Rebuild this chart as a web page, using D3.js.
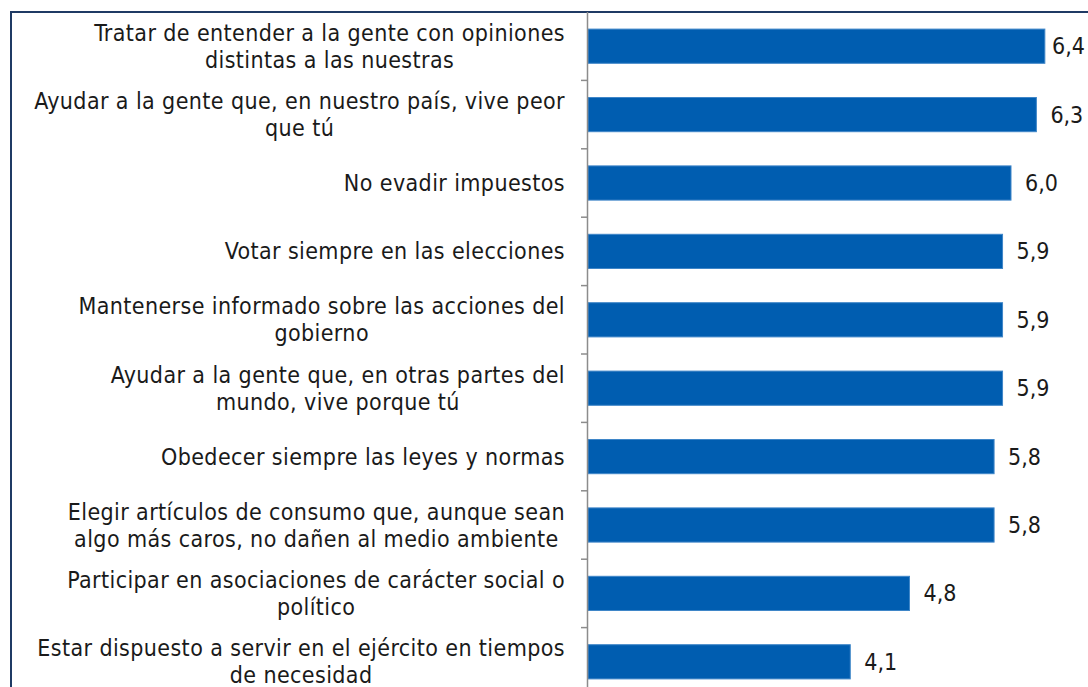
<!DOCTYPE html>
<html>
<head>
<meta charset="utf-8">
<script src="https://cdn.jsdelivr.net/npm/d3@7"></script>
<style>
  html, body { margin: 0; padding: 0; background: #fff; }
  svg { display: block; }
  text { font-family: 'DejaVu Sans Condensed', 'DejaVu Sans', sans-serif; font-stretch: condensed; }
</style>
</head>
<body>
<div id="chart"></div>
<script>
var categories = [
  ['Tratar de entender a la gente con opiniones', 'distintas a las nuestras'],
  ['Ayudar a la gente que, en nuestro país, vive peor', 'que tú'],
  ['No evadir impuestos'],
  ['Votar siempre en las elecciones'],
  ['Mantenerse informado sobre las acciones del', 'gobierno'],
  ['Ayudar a la gente que, en otras partes del', 'mundo, vive porque tú'],
  ['Obedecer siempre las leyes y normas'],
  ['Elegir artículos de consumo que, aunque sean', 'algo más caros, no dañen al medio ambiente'],
  ['Participar en asociaciones de carácter social o', 'político'],
  ['Estar dispuesto a servir en el ejército en tiempos', 'de necesidad']
];
var values = [6.4, 6.3, 6.0, 5.9, 5.9, 5.9, 5.8, 5.8, 4.8, 4.1];
var valueLabels = ['6,4', '6,3', '6,0', '5,9', '5,9', '5,9', '5,8', '5,8', '4,8', '4,1'];

var W = 1088, H = 687;
var m = { left: 588, top: 12 };
var bandStep = 68.4;

var svg = d3.select('#chart').append('svg')
  .attr('width', W)
  .attr('height', H);

// frame
svg.append('path')
  .attr('d', 'M11,' + H + ' V12 H' + W)
  .attr('fill', 'none')
  .attr('stroke', '#1f3a64')
  .attr('stroke-width', 2);

var idx = d3.range(values.length);

var xScale = d3.scaleLinear()
  .domain([1, 7])
  .range([m.left, m.left + 6 * 84.6]);

var yScale = d3.scaleBand()
  .domain(idx)
  .range([m.top, m.top + bandStep * values.length])
  .paddingInner(0.5)
  .paddingOuter(0.25);

var g = svg.append('g');

g.selectAll('rect.bar')
  .data(idx)
  .enter().append('rect')
  .attr('class', 'bar')
  .attr('x', xScale(1))
  .attr('y', function(i) { return yScale(i); })
  .attr('width', function(i) { return xScale(values[i]) - xScale(1); })
  .attr('height', yScale.bandwidth())
  .attr('fill', '#005db0')
  .attr('stroke', '#3f86c8')
  .attr('stroke-width', 1);

// y axis line and ticks at category boundaries
var yAxis = g.append('g').attr('class', 'yaxis');
yAxis.append('line')
  .attr('x1', m.left - 0.5).attr('x2', m.left - 0.5)
  .attr('y1', m.top).attr('y2', H)
  .attr('stroke', '#8c8c8c')
  .attr('stroke-width', 1.5);

yAxis.selectAll('line.tick')
  .data(d3.range(1, values.length))
  .enter().append('line')
  .attr('class', 'tick')
  .attr('x1', m.left - 7).attr('x2', m.left)
  .attr('y1', function(i) { return yScale(i) - yScale.step() * yScale.paddingInner() / 2; })
  .attr('y2', function(i) { return yScale(i) - yScale.step() * yScale.paddingInner() / 2; })
  .attr('stroke', '#8c8c8c')
  .attr('stroke-width', 1.5);

// category labels, block right-aligned, lines centred inside it
var labels = g.selectAll('text.ylabel')
  .data(idx)
  .enter().append('text')
  .attr('class', 'ylabel')
  .attr('font-size', 23)
  .attr('letter-spacing', 0.4)
  .attr('fill', '#1a1a1a')
  .attr('text-anchor', 'middle')
  .attr('transform', function(i) {
    return 'translate(0,' + (yScale(i) + yScale.bandwidth() / 2) + ')';
  });

labels.each(function(i) {
  var lines = categories[i];
  var t = d3.select(this);
  var lh = 27;
  lines.forEach(function(s, k) {
    t.append('tspan')
      .attr('x', 0)
      .attr('y', (k - (lines.length - 1) / 2) * lh)
      .attr('dy', '0.35em')
      .text(s);
  });
  var widths = [];
  t.selectAll('tspan').each(function() { widths.push(this.getComputedTextLength()); });
  t.selectAll('tspan').attr('x', 565 - d3.max(widths) / 2);
});

// value labels, pulled back inside the frame when they would overflow
g.selectAll('text.val')
  .data(idx)
  .enter().append('text')
  .attr('class', 'val')
  .attr('font-size', 23)
  .attr('fill', '#1a1a1a')
  .attr('y', function(i) { return yScale(i) + yScale.bandwidth() / 2; })
  .attr('dy', '0.35em')
  .text(function(i) { return valueLabels[i]; })
  .attr('x', function(i) {
    var tw = this.getComputedTextLength();
    return Math.min(xScale(values[i]) + 14, W - tw - 3);
  });
</script>
</body>
</html>
